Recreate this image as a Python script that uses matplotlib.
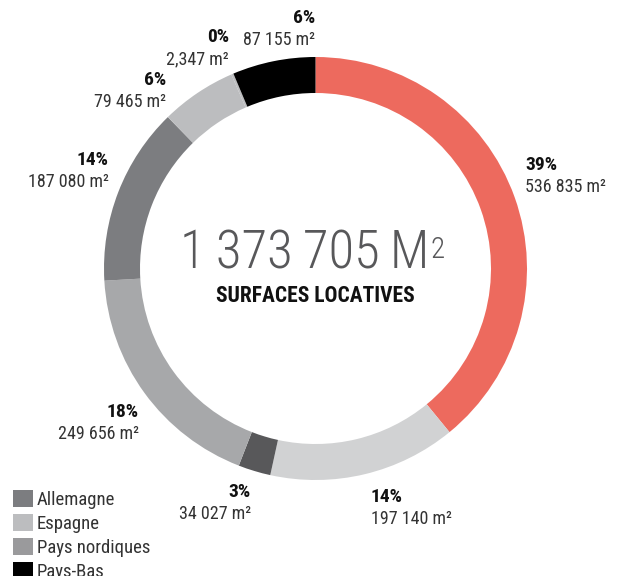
import matplotlib
matplotlib.use('Agg')
from matplotlib import pyplot as plt
from matplotlib import font_manager
from matplotlib.patches import Patch

# police étroite si disponible
fm = font_manager.fontManager.ttflist
noms = {f.name for f in fm}
etroites = [n for n in ['Roboto Condensed', 'Liberation Sans Narrow',
                        'Open Sans Condensed', 'DejaVu Sans Condensed'] if n in noms]
if etroites:
    police, etirement = etroites[0], 'normal'
else:
    police, etirement = 'DejaVu Sans', 'condensed'
plt.rcParams['font.family'] = [police, 'DejaVu Sans']
plt.rcParams['font.stretch'] = etirement

# surfaces par segment, dans le sens horaire depuis midi
surfaces = [536835, 197140, 34027, 249656, 187080, 79465, 2347, 87155]
pourcents = ['39%', '14%', '3%', '18%', '14%', '6%', '0%', '6%']
libelles = ['536 835 m²', '197 140 m²', '34 027 m²', '249 656 m²',
            '187 080 m²', '79 465 m²', '2,347 m²', '87 155 m²']
couleurs = ['#ED6A5E', '#D1D2D3', '#58585A', '#A7A8AA',
            '#7C7D80', '#BCBDBF', '#BCBDBF', '#000000']

pays = ['Allemagne', 'Espagne', 'Pays nordiques', 'Pays-Bas']
couleurs_pays = ['#7C7D80', '#BCBDBF', '#9A9A9C', '#000000']

total = '1\u2009373\u2009705\u2009M'
sous_titre = 'SURFACES LOCATIVES'

W, H = 623, 576
fig = plt.figure(figsize=(W / 100, H / 100), dpi=100)
ax = fig.add_axes([0, 0, 1, 1])

# anneau : centre et rayon en pixels (axe y vers le haut)
cx, cy, r = 315.5, H - 268.5, 211.5
ax.pie(surfaces, colors=couleurs, startangle=90, counterclock=False,
       center=(cx, cy), radius=r, wedgeprops=dict(width=36, linewidth=0))
ax.set_xlim(0, W)
ax.set_ylim(0, H)
ax.set_aspect('auto')
ax.axis('off')

# position des étiquettes (x, y en pixels depuis le haut, alignement)
pos = [(525, 165, 'left'), (371, 497, 'left'), (251, 492, 'right'),
       (139, 412, 'right'), (109, 160, 'right'), (166, 80, 'right'),
       (229, 37, 'right'), (315, 18, 'right')]
for p, lib, (x, y, ha) in zip(pourcents, libelles, pos):
    ax.text(x, H - y, p, ha=ha, va='center', fontsize=14,
            fontweight='bold', color='#111111')
    ax.text(x, H - y - 22, lib, ha=ha, va='center', fontsize=13,
            color='#333333')

t = ax.text(cx - 11, H - 254, total, ha='center', va='center', fontsize=38,
            color='#58585A', fontweight='light')
ax.annotate('2', xy=(1, 0.84), xycoords=t, xytext=(1, 0),
            textcoords='offset points', ha='left', va='top', fontsize=21,
            color='#58585A', fontweight='light')
ax.text(cx, H - 296, sous_titre, ha='center', va='center', fontsize=15.5,
        fontweight='bold', color='#111111')

handles = [Patch(facecolor=c, edgecolor='none') for c in couleurs_pays]
fig.legend(handles, pays, loc='upper left', bbox_to_anchor=(0.021, 1 - 490 / H),
           frameon=False, fontsize=13.5, labelcolor='#333333',
           handlelength=1.05, handleheight=1.0, handletextpad=0.2,
           labelspacing=0.28, borderaxespad=0, borderpad=0)

fig.savefig('out.png', dpi=100)
